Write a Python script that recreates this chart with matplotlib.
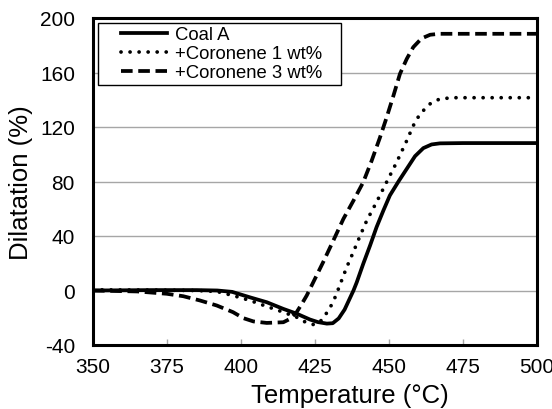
import numpy as np
import matplotlib
matplotlib.use("Agg")
import matplotlib.pyplot as plt
from matplotlib.legend_handler import HandlerLine2D

plt.rcParams['font.family'] = ['Liberation Sans', 'DejaVu Sans']
plt.rcParams['axes.unicode_minus'] = False

# data
t_coal = [350, 370, 385, 392, 397, 403, 408.7, 414.3, 418.8, 423.3, 426, 429,
          431, 433, 435, 436.5, 438, 439.1, 441.3, 443.6, 445.8, 448.1, 450.3,
          453.2, 456, 458.8, 461.6, 464.4, 467.2, 475, 500]
d_coal = [0, 0.3, 0.3, 0, -1, -5, -8.6, -13.5, -17, -21.3, -23.2, -24.3,
          -24, -20.5, -14, -7, 0, 6, 19.6, 33, 46.5, 58.7, 69.8,
          80, 89.3, 98.6, 104.5, 107.2, 108, 108.2, 108.2]

t_cor1 = [350, 370, 385, 391.8, 397.3, 403, 408.7, 414.3, 418.8, 422, 424.5,
          426.5, 428, 430, 431.5, 432.7, 433.4, 435.7, 437.9, 440.2, 442.5,
          445.8, 449.2, 452.6, 456, 458.2, 460.5, 463.9, 467.2, 472, 500]
d_cor1 = [0.5, 0.3, 0, -0.7, -3.7, -7.3, -11.7, -15.9, -19.6, -23.5, -25,
          -23.5, -19.5, -13, -6.5, 0, 4, 17, 28, 40, 51.4,
          64.9, 79.6, 94.2, 110, 121, 129.7, 137, 140.7, 141.5, 141.5]

t_cor3 = [350, 365, 374.9, 380.5, 386.1, 391.8, 397.3, 400.8, 404.2, 408.7,
          414.3, 416.6, 418.8, 420.5, 422.2, 424.4, 427.8, 431.2, 434.6, 438,
          441.3, 444.1, 446.9, 449.2, 451.5, 453.7, 456, 458.2, 461, 463.9,
          467, 500]
d_cor3 = [0, -0.7, -2.4, -4.2, -7.3, -11, -15.9, -20.3, -22.7, -23.8,
          -23.3, -20.8, -15.9, -10, -3.7, 6, 21, 36.7, 52.6, 66,
          79.5, 95, 112, 127, 143, 159, 170, 178.6, 185, 187.7,
          188.4, 188.4]

labels = ['Coal A', '+Coronene 1 wt%', '+Coronene 3 wt%']
xticks = [350, 375, 400, 425, 450, 475, 500]
yticks = [-40, 0, 40, 80, 120, 160, 200]

fig = plt.figure(figsize=(5.52, 4.10), dpi=100)
ax = fig.add_axes([93 / 552, 1 - 346 / 410, 444 / 552, 327 / 410])

ax.plot(t_coal, d_coal, color='black', lw=2.7, label=labels[0])
ax.plot(t_cor1, d_cor1, color='black', lw=2.7, linestyle=(0, (0.01, 2.4)),
        dash_capstyle='round', label=labels[1])
ax.plot(t_cor3, d_cor3, color='black', lw=2.7, linestyle=(0, (3.1, 1.5)),
        label=labels[2])

ax.set_xlim(350, 500)
ax.set_ylim(-40, 200)
ax.set_xticks(xticks)
ax.set_yticks(yticks)
ax.grid(axis='y', color='#a6a6a6', lw=1)
ax.set_axisbelow(True)

ax.tick_params(axis='x', direction='in', length=4, color='#a6a6a6', width=1,
               labelsize=15, pad=9)
ax.tick_params(axis='y', length=0, labelsize=15, pad=13)
for s in ax.spines.values():
    s.set_linewidth(2.2)
    s.set_color('black')

ax.set_xlabel('Temperature (°C)', fontsize=18.5)
ax.xaxis.set_label_coords(0.579, -0.115)
ax.set_ylabel('Dilatation (%)', fontsize=18.5)
ax.yaxis.set_label_coords(-0.135, 0.5)

# trailing no-break spaces widen the legend box on the right like the original
hl = [ax.lines[i] for i in range(3)]
leg = ax.legend(hl, [lab + '\u00a0' * 3 for lab in labels], loc='upper left',
                fontsize=13.3, handlelength=3.55, handletextpad=0.43,
                labelspacing=0.1, borderpad=0.2, borderaxespad=0.25,
                fancybox=False, framealpha=1,
                handler_map={l: HandlerLine2D(xpad=1.05) for l in hl})
leg.get_frame().set_edgecolor('black')
leg.get_frame().set_linewidth(1.0)

fig.savefig('out.png', dpi=100)
